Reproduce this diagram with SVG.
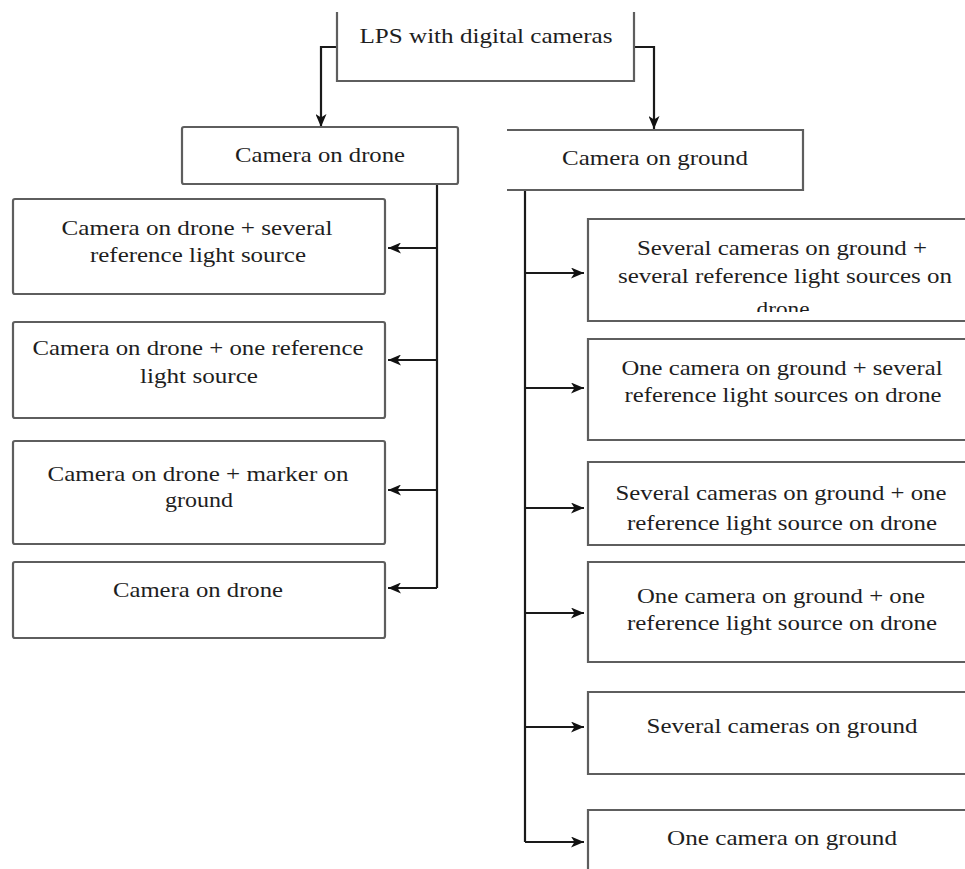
<svg xmlns="http://www.w3.org/2000/svg" width="965" height="869" viewBox="0 0 965 869">
<style>
.box{fill:none;stroke:#5e5e5e;stroke-width:2.2}
.con{fill:none;stroke:#1a1a1a;stroke-width:2.2}
text{font-family:"Liberation Serif","Times New Roman",serif;font-size:22px;fill:#1e1e1e;text-anchor:middle}
</style>
<defs>
<marker id="ah" markerUnits="userSpaceOnUse" markerWidth="13" markerHeight="11" viewBox="0 0 13 11" refX="13" refY="5.5" orient="auto">
<path d="M0,0 L13,5.5 L0,11 L3.5,5.5 Z" fill="#111"/>
</marker>
<clipPath id="c1"><rect x="588" y="219" width="377" height="93"/></clipPath>
</defs>
<rect width="965" height="869" fill="#fff"/>

<g id="connectors">
<path class="con" d="M337,47 H321 V127" marker-end="url(#ah)"/>
<path class="con" d="M634,47 H654 V129" marker-end="url(#ah)"/>
<path class="con" d="M437,184 V588"/>
<path class="con" d="M437,248 H388" marker-end="url(#ah)"/>
<path class="con" d="M437,360 H388" marker-end="url(#ah)"/>
<path class="con" d="M437,490 H388" marker-end="url(#ah)"/>
<path class="con" d="M437,588 H388" marker-end="url(#ah)"/>
<path class="con" d="M525,190 V842"/>
<path class="con" d="M525,273 H584" marker-end="url(#ah)"/>
<path class="con" d="M525,388 H584" marker-end="url(#ah)"/>
<path class="con" d="M525,508 H584" marker-end="url(#ah)"/>
<path class="con" d="M525,613 H584" marker-end="url(#ah)"/>
<path class="con" d="M525,727 H584" marker-end="url(#ah)"/>
<path class="con" d="M525,842 H584" marker-end="url(#ah)"/>
</g>

<g id="root">
<path class="box" d="M337,12 V81 H634 V12"/>
<text x="486" y="43" textLength="253" lengthAdjust="spacingAndGlyphs">LPS with digital cameras</text>
</g>

<g id="drone">
<rect class="box" x="182" y="127" width="276" height="57" rx="2"/>
<text x="320" y="162" textLength="170" lengthAdjust="spacingAndGlyphs">Camera on drone</text>
</g>

<g id="ground">
<path class="box" d="M507,130 H803 V190 H507"/>
<text x="655" y="165" textLength="186" lengthAdjust="spacingAndGlyphs">Camera on ground</text>
</g>

<g id="d1">
<rect class="box" x="13" y="199" width="372" height="95" rx="2"/>
<text x="197" y="235" textLength="271" lengthAdjust="spacingAndGlyphs">Camera on drone + several</text>
<text x="198" y="262" textLength="216" lengthAdjust="spacingAndGlyphs">reference light source</text>
</g>
<g id="d2">
<rect class="box" x="13" y="322" width="372" height="96" rx="2"/>
<text x="198" y="355" textLength="331" lengthAdjust="spacingAndGlyphs">Camera on drone + one reference</text>
<text x="199" y="383" textLength="118" lengthAdjust="spacingAndGlyphs">light source</text>
</g>
<g id="d3">
<rect class="box" x="13" y="441" width="372" height="103" rx="2"/>
<text x="198" y="481" textLength="301" lengthAdjust="spacingAndGlyphs">Camera on drone + marker on</text>
<text x="199" y="507" textLength="68" lengthAdjust="spacingAndGlyphs">ground</text>
</g>
<g id="d4">
<rect class="box" x="13" y="562" width="372" height="76" rx="2"/>
<text x="198" y="597" textLength="170" lengthAdjust="spacingAndGlyphs">Camera on drone</text>
</g>

<g id="g1">
<path class="box" d="M965,219 H588 V321 H965"/>
<text x="782" y="255" textLength="290" lengthAdjust="spacingAndGlyphs">Several cameras on ground +</text>
<text x="785" y="283" textLength="334" lengthAdjust="spacingAndGlyphs">several reference light sources on</text>
<text x="783" y="316" clip-path="url(#c1)" textLength="53" lengthAdjust="spacingAndGlyphs">drone</text>
</g>
<g id="g2">
<path class="box" d="M965,339 H588 V440 H965"/>
<text x="782" y="375" textLength="321" lengthAdjust="spacingAndGlyphs">One camera on ground + several</text>
<text x="783" y="402" textLength="317" lengthAdjust="spacingAndGlyphs">reference light sources on drone</text>
</g>
<g id="g3">
<path class="box" d="M965,462 H588 V545 H965"/>
<text x="781" y="500" textLength="331" lengthAdjust="spacingAndGlyphs">Several cameras on ground + one</text>
<text x="782" y="530" textLength="310" lengthAdjust="spacingAndGlyphs">reference light source on drone</text>
</g>
<g id="g4">
<path class="box" d="M965,562 H588 V662 H965"/>
<text x="781" y="603" textLength="288" lengthAdjust="spacingAndGlyphs">One camera on ground + one</text>
<text x="782" y="630" textLength="310" lengthAdjust="spacingAndGlyphs">reference light source on drone</text>
</g>
<g id="g5">
<path class="box" d="M965,692 H588 V774 H965"/>
<text x="782" y="733" textLength="271" lengthAdjust="spacingAndGlyphs">Several cameras on ground</text>
</g>
<g id="g6">
<path class="box" d="M965,810 H588 V869"/>
<text x="782" y="845" textLength="230" lengthAdjust="spacingAndGlyphs">One camera on ground</text>
</g>
</svg>
